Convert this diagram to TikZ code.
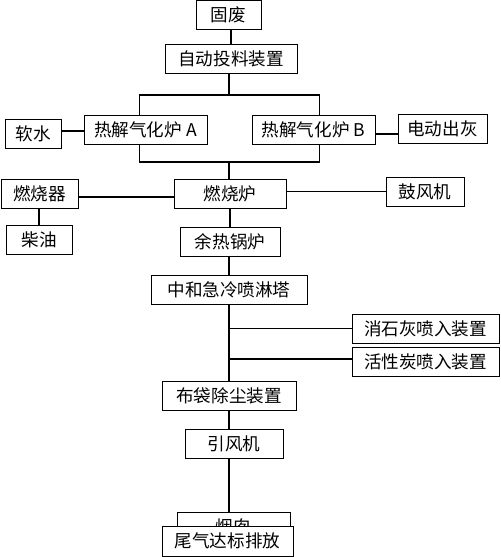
\documentclass[tikz,border=0pt]{standalone}
\usepackage{fontspec}
\newfontfamily\cjk{Noto Sans CJK SC}
\usetikzlibrary{calc}
\tikzset{box/.style={draw,thin,fill=white,inner sep=0pt,minimum height=0.58cm,font=\cjk\fontsize{10}{12}\selectfont},
link/.style={draw,line width=0.6pt}}
\begin{document}
\begin{tikzpicture}[x=0.02cm,y=-0.02cm,line width=0.6pt]
\useasboundingbox (0,0) rectangle (500,557);
\node[box,minimum width=1.3cm] (solid) at (228.5,15) {固废};
\node[box,minimum width=2.64cm] (feed) at (231,59) {自动投料装置};
\node[box,minimum width=2.46cm] (pyA) at (145.5,129.5) {热解气化炉 A};
\node[box,minimum width=2.46cm] (pyB) at (313.5,129.5) {热解气化炉 B};
\node[box,minimum width=1.12cm] (water) at (33,133.5) {软水};
\node[box,minimum width=1.78cm] (ash) at (442.5,129) {电动出灰};
\node[box,minimum width=2.24cm] (furnace) at (230,193.5) {燃烧炉};
\node[box,minimum width=1.54cm] (burner) at (39.5,193.5) {燃烧器};
\node[box,minimum width=1.56cm] (blower) at (425,191.5) {鼓风机};
\node[box,minimum width=1.32cm] (diesel) at (39,239.5) {柴油};
\node[box,minimum width=2cm] (boiler) at (230,241.5) {余热锅炉};
\node[box,minimum width=3.12cm] (quench) at (229,290) {中和急冷喷淋塔};
\node[box,minimum width=2.94cm] (lime) at (425.5,328.5) {消石灰喷入装置};
\node[box,minimum width=2.94cm] (carbon) at (425.5,361.5) {活性炭喷入装置};
\node[box,minimum width=2.68cm] (bag) at (229,395.5) {布袋除尘装置};
\node[box,minimum width=1.96cm] (fan) at (234,443.5) {引风机};
\node[box,minimum width=2.26cm] (chimney) at (233.5,527) {烟囱};
\node[box,minimum width=2.62cm,minimum height=0.6cm] (exhaust) at (227.5,541) {尾气达标排放};
\coordinate (split) at (229,95);
\coordinate (merge) at (229,162);
\draw (solid.south -| feed.north) -- (feed.north);
\draw (feed.south -| split) -- (split);
\draw ([xshift=-0.12cm]pyA.north) |- (split) -| ([xshift=0.12cm]pyB.north);
\draw ([xshift=-0.12cm]pyA.south) |- (merge) -| ([xshift=0.12cm]pyB.south);
\draw (merge) -- (merge |- furnace.north);
\draw ([yshift=-0.03cm]pyA.west) -- ([yshift=-0.03cm]pyA.west -| water.east);
\draw ([yshift=-0.09cm]pyB.east) -- ([yshift=-0.09cm]pyB.east -| ash.west);
\draw ([yshift=-0.07cm]furnace.west) -- ([yshift=-0.07cm]furnace.west -| burner.east);
\draw (blower.west) -- (blower.west -| furnace.east);
\draw (burner.south -| diesel.north) -- (diesel.north);
\draw (furnace.south) -- (boiler.north);
\draw (boiler.south -| quench.north) -- (quench.north);
\draw (quench.south) -- (bag.north);
\draw (lime.west) -- (lime.west -| quench.south);
\draw ([yshift=0.05cm]carbon.west) -- ([yshift=0.05cm]carbon.west -| quench.south);
\draw (bag.south) -- (bag.south |- fan.north);
\draw (fan.south -| bag.south) -- (chimney.north -| bag.south);
\end{tikzpicture}
\end{document}
